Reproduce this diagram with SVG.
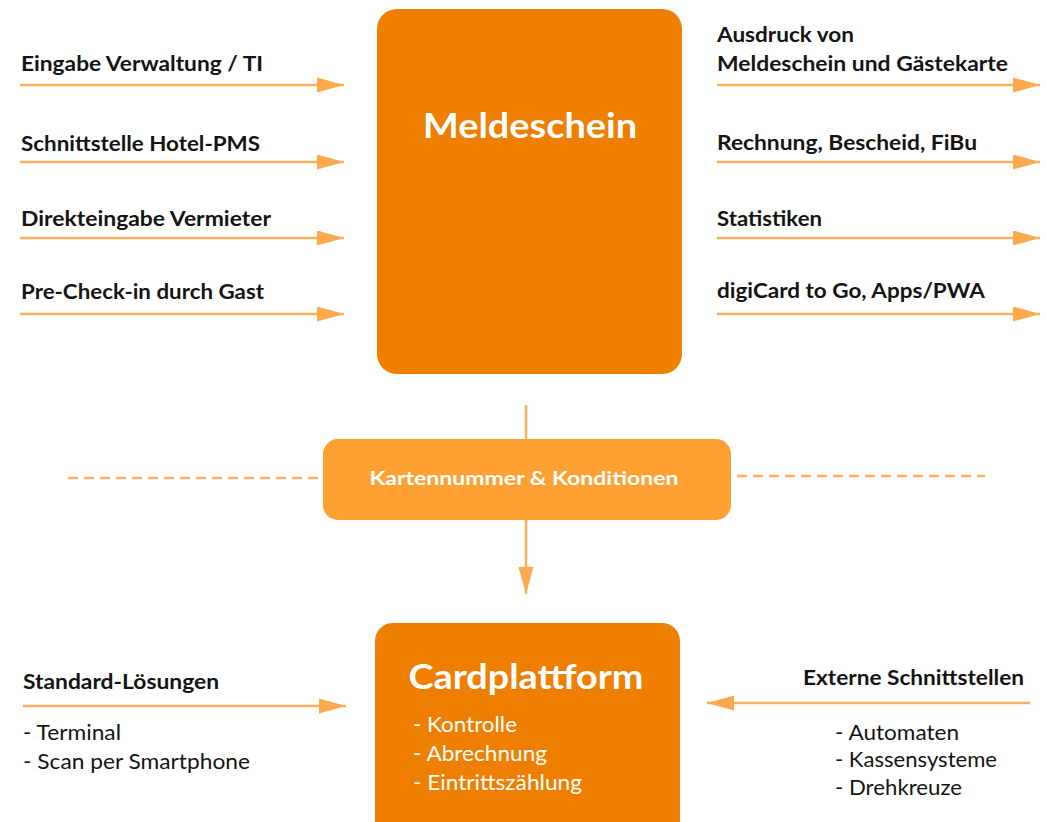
<svg xmlns="http://www.w3.org/2000/svg" width="1046" height="822" viewBox="0 0 1046 822">
<defs>
<style>
.lbl{font-family:Lato,"Open Sans","Liberation Sans",sans-serif;font-weight:bold;font-size:21px;fill:#141414}
.reg{font-family:Lato,"Open Sans","Liberation Sans",sans-serif;font-size:22px;fill:#141414}
.wt{font-family:Lato,"Open Sans","Liberation Sans",sans-serif;fill:#ffffff}
.big{font-weight:bold;font-size:35px}
.bul{font-size:22px}
.main{fill:#EF7F00}
.mid{fill:#FFA033}
.ln{stroke:#FDB05E;stroke-width:2.5;fill:none}
.dash{stroke:#FDB05E;stroke-width:2.5;fill:none;stroke-dasharray:10 6}
</style>
<marker id="ah" markerUnits="userSpaceOnUse" markerWidth="28" markerHeight="16" refX="27" refY="7.5" orient="auto">
<path d="M0,0 L27,7.5 L0,15 z" fill="#FDAA4E"/>
</marker>
</defs>
<rect width="1046" height="822" fill="#ffffff"/>
<g id="connectors">
<line class="ln" x1="20" y1="85" x2="344" y2="85" marker-end="url(#ah)"/>
<line class="ln" x1="20" y1="162" x2="344" y2="162" marker-end="url(#ah)"/>
<line class="ln" x1="20" y1="238" x2="344" y2="238" marker-end="url(#ah)"/>
<line class="ln" x1="20" y1="314" x2="344" y2="314" marker-end="url(#ah)"/>
<line class="ln" x1="717" y1="85" x2="1040" y2="85" marker-end="url(#ah)"/>
<line class="ln" x1="717" y1="162" x2="1040" y2="162" marker-end="url(#ah)"/>
<line class="ln" x1="717" y1="238" x2="1040" y2="238" marker-end="url(#ah)"/>
<line class="ln" x1="717" y1="314" x2="1040" y2="314" marker-end="url(#ah)"/>
<line class="ln" x1="526" y1="405" x2="526" y2="440"/>
<line class="ln" x1="526" y1="520" x2="526" y2="594" marker-end="url(#ah)"/>
<line class="dash" x1="68" y1="478" x2="323" y2="478"/>
<line class="dash" x1="737" y1="476" x2="985" y2="476"/>
<line class="ln" x1="23" y1="706" x2="346" y2="706" marker-end="url(#ah)"/>
<line class="ln" x1="1030" y1="703" x2="707" y2="703" marker-end="url(#ah)"/>
</g>
<g id="labels-left">
<text class="lbl" x="21" y="71" textLength="242" lengthAdjust="spacingAndGlyphs">Eingabe Verwaltung / TI</text>
<text class="lbl" x="21" y="151" textLength="239" lengthAdjust="spacingAndGlyphs">Schnittstelle Hotel-PMS</text>
<text class="lbl" x="21" y="226" textLength="250" lengthAdjust="spacingAndGlyphs">Direkteingabe Vermieter</text>
<text class="lbl" x="21" y="299" textLength="243" lengthAdjust="spacingAndGlyphs">Pre-Check-in durch Gast</text>
</g>
<g id="labels-right">
<text class="lbl" x="717" y="42" textLength="137" lengthAdjust="spacingAndGlyphs">Ausdruck von</text>
<text class="lbl" x="717" y="71" textLength="291" lengthAdjust="spacingAndGlyphs">Meldeschein und Gästekarte</text>
<text class="lbl" x="717" y="150" textLength="260" lengthAdjust="spacingAndGlyphs">Rechnung, Bescheid, FiBu</text>
<text class="lbl" x="717" y="226" textLength="105" lengthAdjust="spacingAndGlyphs">Statistiken</text>
<text class="lbl" x="717" y="298" textLength="268" lengthAdjust="spacingAndGlyphs">digiCard to Go, Apps/PWA</text>
</g>
<g id="meldeschein">
<rect class="main" x="377" y="9" width="305" height="365" rx="20"/>
<text class="wt big" x="530" y="138" text-anchor="middle" textLength="214" lengthAdjust="spacingAndGlyphs">Meldeschein</text>
</g>
<g id="kartennummer">
<rect class="mid" x="323" y="439" width="408" height="81" rx="15"/>
<text class="wt" x="524" y="485" text-anchor="middle" font-weight="bold" font-size="19" textLength="309" lengthAdjust="spacingAndGlyphs">Kartennummer &amp; Konditionen</text>
</g>
<g id="cardplattform">
<rect class="main" x="375" y="623" width="305" height="230" rx="18"/>
<text class="wt big" x="526" y="689" text-anchor="middle" textLength="235" lengthAdjust="spacingAndGlyphs">Cardplattform</text>
<text class="wt bul" x="413" y="732" textLength="104" lengthAdjust="spacingAndGlyphs">- Kontrolle</text>
<text class="wt bul" x="413" y="761" textLength="134" lengthAdjust="spacingAndGlyphs">- Abrechnung</text>
<text class="wt bul" x="413" y="790" textLength="169" lengthAdjust="spacingAndGlyphs">- Eintrittszählung</text>
</g>
<g id="standard-loesungen">
<text class="lbl" x="23" y="689" textLength="196" lengthAdjust="spacingAndGlyphs">Standard-Lösungen</text>
<text class="reg" x="23" y="740" textLength="98" lengthAdjust="spacingAndGlyphs">- Terminal</text>
<text class="reg" x="23" y="769" textLength="227" lengthAdjust="spacingAndGlyphs">- Scan per Smartphone</text>
</g>
<g id="externe-schnittstellen">
<text class="lbl" x="803" y="685" textLength="221" lengthAdjust="spacingAndGlyphs">Externe Schnittstellen</text>
<text class="reg" x="835" y="740" textLength="124" lengthAdjust="spacingAndGlyphs">- Automaten</text>
<text class="reg" x="835" y="767" textLength="162" lengthAdjust="spacingAndGlyphs">- Kassensysteme</text>
<text class="reg" x="835" y="795" textLength="127" lengthAdjust="spacingAndGlyphs">- Drehkreuze</text>
</g>
</svg>
